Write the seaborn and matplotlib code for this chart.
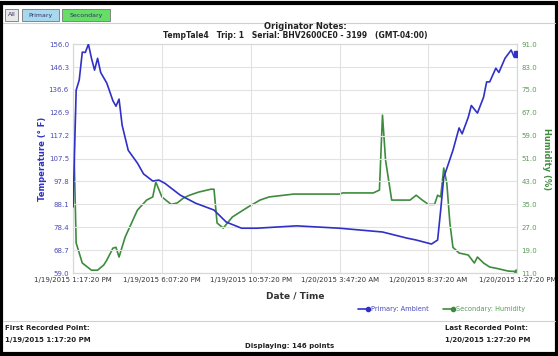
import matplotlib
matplotlib.use("Agg")
import matplotlib.pyplot as plt
import seaborn as sns
import pandas as pd
from matplotlib.patches import Rectangle
from matplotlib.lines import Line2D

# minutes after the first recorded point (1/19/2015 1:17:20 PM)
temp_minutes = [0, 10, 20, 30, 40, 50, 60, 70, 80, 90, 110, 130, 140, 150, 160, 180,
                210, 230, 260, 280, 300, 350, 400, 460, 500, 550, 600, 730, 870, 1010,
                1090, 1120, 1170, 1190, 1200, 1210, 1240, 1260, 1270, 1290, 1300, 1320,
                1340, 1350, 1360, 1380, 1390, 1410, 1430, 1440, 1450]
temp_values = [87.0, 136.5, 140.8, 152.6, 152.5, 156.0, 150.0, 145.0, 150.0, 144.0, 139.5,
               132.0, 129.7, 132.7, 121.7, 111.0, 105.6, 101.0, 98.0, 98.4, 97.0, 92.0,
               88.6, 85.7, 80.6, 78.0, 78.0, 79.0, 78.0, 76.4, 73.8, 73.0, 71.3, 73.0,
               85.7, 99.5, 111.0, 120.5, 118.0, 125.0, 130.0, 126.8, 133.5, 140.0, 140.0,
               145.8, 144.0, 150.0, 153.5, 150.5, 152.0]

hum_minutes = [0, 10, 30, 60, 80, 100, 110, 130, 140, 150, 170, 210, 240, 260, 270, 290,
               320, 340, 360, 380, 410, 450, 460, 470, 490, 520, 570, 610, 640, 720, 870,
               880, 980, 1000, 1010, 1020, 1040, 1100, 1120, 1140, 1160, 1180, 1190, 1200,
               1210, 1220, 1230, 1240, 1260, 1290, 1310, 1320, 1340, 1360, 1380, 1420, 1450]
hum_values = [68.0, 21.5, 14.5, 12.0, 12.0, 13.8, 15.5, 19.7, 20.0, 16.6, 23.6, 33.0, 36.5,
              37.6, 42.8, 37.6, 35.0, 35.5, 37.2, 38.2, 39.3, 40.3, 40.3, 28.5, 26.7, 30.6,
              34.0, 36.5, 37.6, 38.6, 38.6, 39.0, 39.0, 40.0, 66.2, 50.5, 36.5, 36.5, 38.2,
              36.5, 35.0, 35.0, 38.2, 37.6, 47.7, 42.4, 28.5, 20.0, 18.0, 17.3, 14.5, 16.6,
              14.5, 13.1, 12.7, 11.7, 11.5]

x_tick_minutes = [0, 290, 580, 870, 1160, 1450]
x_tick_labels = ["1/19/2015 1:17:20 PM", "1/19/2015 6:07:20 PM", "1/19/2015 10:57:20 PM",
                 "1/20/2015 3:47:20 AM", "1/20/2015 8:37:20 AM", "1/20/2015 1:27:20 PM"]
temp_ticks = [59.0, 68.7, 78.4, 88.1, 97.8, 107.5, 117.2, 126.9, 136.6, 146.3, 156.0]
hum_ticks = [11.0, 19.0, 27.0, 35.0, 43.0, 51.0, 59.0, 67.0, 75.0, 83.0, 91.0]

BLUE = "#3030c8"
GREEN = "#3d8c3d"
BLUE_TXT = "#4a4ab8"
GREEN_TXT = "#5a9a5a"

sns.set_style("whitegrid")
plt.rcParams["font.family"] = ["DejaVu Sans"]

temp_df = pd.DataFrame({"minutes": temp_minutes, "temp": temp_values})
hum_df = pd.DataFrame({"minutes": hum_minutes, "hum": hum_values})

fig = plt.figure(figsize=(5.58, 3.56), dpi=100)
ax = fig.add_axes([0.131, 0.233, 0.796, 0.643])
ax2 = ax.twinx()

sns.lineplot(data=temp_df, x="minutes", y="temp", ax=ax, color=BLUE, linewidth=1.2, zorder=3)
sns.lineplot(data=hum_df, x="minutes", y="hum", ax=ax2, color=GREEN, linewidth=1.2, zorder=2)
ax.plot(temp_minutes[-1], temp_values[-1], marker="s", color=BLUE, markersize=4, zorder=4)
ax2.plot(hum_minutes[-1], hum_values[-1], marker="o", color=GREEN, markersize=4)

ax.set_xlim(0, 1450)
ax.set_ylim(59, 156)
ax2.set_ylim(11, 91)
ax.set_xticks(x_tick_minutes)
ax.set_xticklabels(x_tick_labels, fontsize=5, color="#333333")
ax.set_yticks(temp_ticks)
ax.set_yticklabels([f"{v:.1f}" for v in temp_ticks], fontsize=5, color=BLUE_TXT)
ax2.set_yticks(hum_ticks)
ax2.set_yticklabels([f"{v:.1f}" for v in hum_ticks], fontsize=5, color=GREEN_TXT)
ax.tick_params(axis="both", length=0, pad=3)
ax2.tick_params(axis="y", length=0, pad=3)
ax.grid(True, color="#e2e2e2", linewidth=0.8)
ax2.grid(False)
ax.set_zorder(ax2.get_zorder() + 1)
ax.patch.set_visible(False)
for a in (ax, ax2):
    for s in a.spines.values():
        s.set_color("#d8d8d8")
        s.set_linewidth(0.8)

ax.set_xlabel("Date / Time", fontsize=6.5, fontweight="bold", color="#333333", labelpad=6)
ax.set_ylabel("Temperature (\u00b0 F)", fontsize=6, fontweight="bold", color=BLUE, labelpad=1)
ax2.set_ylabel("Humidity (%)", fontsize=6, fontweight="bold", color=GREEN, rotation=270, labelpad=10)

# header text
fig.text(0.548, 0.918, "Originator Notes:", fontsize=6, fontweight="bold", ha="center", color="#222222")
fig.text(0.53, 0.893, "TempTale4   Trip: 1   Serial: BHV2600CE0 - 3199   (GMT-04:00)",
         fontsize=5.5, fontweight="bold", ha="center", color="#222222")

# buttons
for x0, w, label, fc in [(5, 13, "All", "#e8e8e8"), (22, 37, "Primary", "#a8d8ee"),
                         (62, 48, "Secondary", "#66dd66")]:
    fig.patches.append(Rectangle((x0 / 558, 1 - 21 / 356), w / 558, 12 / 356,
                                 transform=fig.transFigure, facecolor=fc,
                                 edgecolor="#777777", linewidth=0.6))
    fig.text((x0 + w / 2) / 558, 1 - 15 / 356, label, fontsize=4.5, ha="center", va="center",
             color="#333366")

# separator lines
for yy in [23, 321]:
    fig.add_artist(Line2D([0.005, 0.995], [1 - yy / 356, 1 - yy / 356], color="#d0d0d0", linewidth=0.8))

# legend
fig.add_artist(Line2D([358 / 558, 368 / 558], [1 - 309 / 356] * 2, color=BLUE, linewidth=1.2,
                      marker="o", markersize=3, markevery=[1]))
fig.text(371 / 558, 1 - 309 / 356, "Primary: Ambient", fontsize=4.8, va="center", color=BLUE_TXT)
fig.add_artist(Line2D([443 / 558, 453 / 558], [1 - 309 / 356] * 2, color=GREEN, linewidth=1.2,
                      marker="o", markersize=3, markevery=[1]))
fig.text(456 / 558, 1 - 309 / 356, "Secondary: Humidity", fontsize=4.8, va="center", color=GREEN_TXT)

# footer
fig.text(5 / 558, 1 - 328 / 356, "First Recorded Point:", fontsize=5, fontweight="bold", va="center", color="#222222")
fig.text(5 / 558, 1 - 340 / 356, "1/19/2015 1:17:20 PM", fontsize=5, fontweight="bold", va="center", color="#222222")
fig.text(445 / 558, 1 - 328 / 356, "Last Recorded Point:", fontsize=5, fontweight="bold", va="center", color="#222222")
fig.text(445 / 558, 1 - 340 / 356, "1/20/2015 1:27:20 PM", fontsize=5, fontweight="bold", va="center", color="#222222")
fig.text(290 / 558, 1 - 346 / 356, "Displaying: 146 points", fontsize=5, fontweight="bold", ha="center",
         va="center", color="#222222")

# outer black frame
fig.patches.append(Rectangle((0.002, 0.006), 0.996, 0.985, transform=fig.transFigure,
                             fill=False, edgecolor="black", linewidth=3))

fig.savefig("out.png", dpi=100)
